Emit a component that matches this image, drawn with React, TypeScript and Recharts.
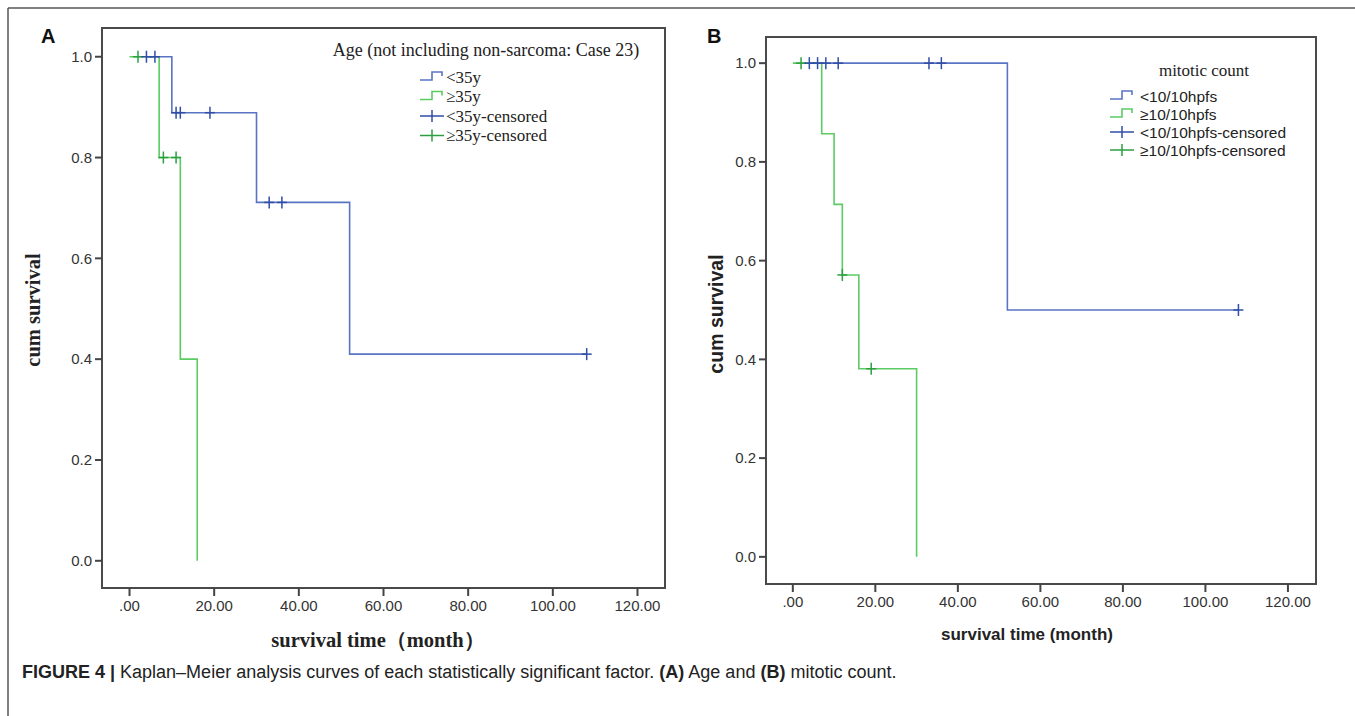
import React from 'react';
import { ComposedChart, Line, Scatter, XAxis, YAxis, ReferenceArea } from 'recharts';

// ---------- data ----------
const timeTicks = [0, 20, 40, 60, 80, 100, 120];
const survTicks = [0, 0.2, 0.4, 0.6, 0.8, 1.0];

// Panel A: Age
const ageYoungCurve = [
  { t: 4, s: 1 },
  { t: 10, s: 0.889 },
  { t: 30, s: 0.711 },
  { t: 52, s: 0.41 },
  { t: 108, s: 0.41 },
];
const ageOldCurve = [
  { t: 0, s: 1 },
  { t: 7, s: 0.8 },
  { t: 12, s: 0.4 },
  { t: 16, s: 0 },
];
const ageYoungCensored = [
  { t: 4, s: 1 },
  { t: 6, s: 1 },
  { t: 11, s: 0.889 },
  { t: 12, s: 0.889 },
  { t: 19, s: 0.889 },
  { t: 33, s: 0.711 },
  { t: 36, s: 0.711 },
  { t: 108, s: 0.41 },
];
const ageOldCensored = [
  { t: 2, s: 1 },
  { t: 8, s: 0.8 },
  { t: 11, s: 0.8 },
];
const ageLegendTitle = 'Age (not including non-sarcoma: Case 23)';
const ageLegendLabels = ['<35y', '≥35y', '<35y-censored', '≥35y-censored'];

// Panel B: mitotic count
const mitLowCurve = [
  { t: 4, s: 1 },
  { t: 52, s: 0.5 },
  { t: 108, s: 0.5 },
];
const mitHighCurve = [
  { t: 0, s: 1 },
  { t: 7, s: 0.857 },
  { t: 10, s: 0.714 },
  { t: 12, s: 0.571 },
  { t: 16, s: 0.381 },
  { t: 30, s: 0 },
];
const mitLowCensored = [
  { t: 4, s: 1 },
  { t: 6, s: 1 },
  { t: 8, s: 1 },
  { t: 11, s: 1 },
  { t: 33, s: 1 },
  { t: 36, s: 1 },
  { t: 108, s: 0.5 },
];
const mitHighCensored = [
  { t: 2, s: 1 },
  { t: 12, s: 0.571 },
  { t: 19, s: 0.381 },
];
const mitLegendTitle = 'mitotic count';
const mitLegendLabels = ['<10/10hpfs', '≥10/10hpfs', '<10/10hpfs-censored', '≥10/10hpfs-censored'];

const captionParts = [
  { text: 'FIGURE 4 | ', bold: true },
  { text: 'Kaplan–Meier analysis curves of each statistically significant factor. ', bold: false },
  { text: '(A)', bold: true },
  { text: ' Age and ', bold: false },
  { text: '(B)', bold: true },
  { text: ' mitotic count.', bold: false },
];

// ---------- style ----------
const BLUE = '#5a74c4';
const GREEN = '#5ccb64';
const BLUE_C = '#2f4ea6';
const GREEN_C = '#2c9f40';
const SANS = '"Liberation Sans", Arial, sans-serif';
const SERIF = '"Liberation Serif", "Times New Roman", serif';

const plusShape = (color: string) => (props: any) => {
  const { cx, cy } = props;
  return (
    <g>
      <line x1={cx - 5} x2={cx + 5} y1={cy} y2={cy} stroke={color} strokeWidth={1.5} />
      <line x1={cx} x2={cx} y1={cy - 6} y2={cy + 6} stroke={color} strokeWidth={1.5} />
    </g>
  );
};

const fmtTime = (v: number) => (v === 0 ? '.00' : v.toFixed(2));
const fmtSurv = (v: number) => v.toFixed(1);

type PanelProps = {
  left: number;
  width: number;
  height: number;
  margin: { top: number; left: number; right: number; bottom: number };
  xDomain: [number, number];
  yDomain: [number, number];
  lowCurve: { t: number; s: number }[];
  highCurve: { t: number; s: number }[];
  lowCens: { t: number; s: number }[];
  highCens: { t: number; s: number }[];
};

const Panel = (p: PanelProps) => (
  <div style={{ position: 'absolute', left: p.left, top: 0 }}>
    <ComposedChart width={p.width} height={p.height} margin={p.margin}>
      <XAxis
        dataKey="t"
        type="number"
        domain={p.xDomain}
        ticks={timeTicks}
        allowDataOverflow
        tickFormatter={fmtTime}
        axisLine={false}
        tickLine={{ stroke: '#444', strokeWidth: 2 }}
        tickSize={8}
        tickMargin={4}
        height={30}
        tick={{ fill: '#333', fontSize: 15, fontFamily: SANS }}
        interval={0}
      />
      <YAxis
        dataKey="s"
        type="number"
        domain={p.yDomain}
        ticks={survTicks}
        allowDataOverflow
        tickFormatter={fmtSurv}
        axisLine={false}
        tickLine={{ stroke: '#444', strokeWidth: 2 }}
        tickSize={7}
        tickMargin={3}
        width={60}
        tick={{ fill: '#333', fontSize: 15, fontFamily: SANS }}
        interval={0}
      />
      <ReferenceArea
        x1={p.xDomain[0]}
        x2={p.xDomain[1]}
        y1={p.yDomain[0]}
        y2={p.yDomain[1]}
        fill="none"
        fillOpacity={0}
        stroke="#4a4a4a"
        strokeWidth={2}
        ifOverflow="visible"
      />
      <Line data={p.highCurve} dataKey="s" type="stepAfter" stroke={GREEN} strokeWidth={1.6} dot={false} activeDot={false} isAnimationActive={false} />
      <Line data={p.lowCurve} dataKey="s" type="stepAfter" stroke={BLUE} strokeWidth={1.6} dot={false} activeDot={false} isAnimationActive={false} />
      <Scatter data={p.highCens} dataKey="s" shape={plusShape(GREEN_C)} isAnimationActive={false} />
      <Scatter data={p.lowCens} dataKey="s" shape={plusShape(BLUE_C)} isAnimationActive={false} />
    </ComposedChart>
  </div>
);

const StepIcon = ({ x, y, color }: { x: number; y: number; color: string }) => (
  <path d={`M${x},${y + 3} H${x + 12} V${y - 5} H${x + 22} V${y - 1}`} fill="none" stroke={color} strokeWidth={1.6} />
);
const CensIcon = ({ x, y, color }: { x: number; y: number; color: string }) => (
  <g>
    <line x1={x} x2={x + 24} y1={y} y2={y} stroke={color} strokeWidth={1.5} />
    <line x1={x + 12} x2={x + 12} y1={y - 6} y2={y + 6} stroke={color} strokeWidth={1.5} />
  </g>
);

const LegendBlock = ({
  title, titleX, titleY, titleSize, labels, iconX, textX, ys, font, size,
}: {
  title: string; titleX: number; titleY: number; titleSize: number; labels: string[]; iconX: number; textX: number; ys: number[]; font: string; size: number;
}) => (
  <g>
    <text x={titleX} y={titleY} textAnchor="middle" dominantBaseline="central" fontFamily={SERIF} fontSize={titleSize} fill="#222">
      {title}
    </text>
    {labels.map((lab, i) => {
      const color = i % 2 === 0 ? BLUE : GREEN;
      const cColor = i % 2 === 0 ? BLUE_C : GREEN_C;
      return (
        <g key={lab}>
          {i < 2 ? <StepIcon x={iconX} y={ys[i]} color={color} /> : <CensIcon x={iconX} y={ys[i]} color={cColor} />}
          <text x={textX} y={ys[i]} dominantBaseline="central" fontFamily={font} fontSize={size} fill="#222">
            {lab}
          </text>
        </g>
      );
    })}
  </g>
);

export default function App() {
  return (
    <div style={{ position: 'absolute', left: 0, top: 0, width: 1355, height: 716, background: '#fff' }}>
      <Panel
        left={0}
        width={680}
        height={700}
        margin={{ top: 28, left: 42, right: 15, bottom: 82 }}
        xDomain={[-6.5, 126.5]}
        yDomain={[-0.054, 1.057]}
        lowCurve={ageYoungCurve}
        highCurve={ageOldCurve}
        lowCens={ageYoungCensored}
        highCens={ageOldCensored}
      />
      <Panel
        left={680}
        width={660}
        height={700}
        margin={{ top: 37, left: 26, right: 24, bottom: 86 }}
        xDomain={[-6.5, 126.8]}
        yDomain={[-0.055, 1.053]}
        lowCurve={mitLowCurve}
        highCurve={mitHighCurve}
        lowCens={mitLowCensored}
        highCens={mitHighCensored}
      />
      <svg width={1355} height={716} style={{ position: 'absolute', left: 0, top: 0, pointerEvents: 'none' }}>
        {/* outer frame */}
        <line x1={8} y1={8} x2={1355} y2={8} stroke="#555" strokeWidth={1.5} />
        <line x1={8} y1={8} x2={8} y2={716} stroke="#555" strokeWidth={1.5} />
        {/* panel letters */}
        <text x={41} y={43} fontFamily={SANS} fontWeight="bold" fontSize={20} fill="#111">A</text>
        <text x={707} y={43} fontFamily={SANS} fontWeight="bold" fontSize={20} fill="#111">B</text>
        {/* axis titles A */}
        <text x={378} y={640} textAnchor="middle" dominantBaseline="central" fontFamily={SERIF} fontWeight="bold" fontSize={20.5} fill="#222">
          survival time（month）
        </text>
        <text x={33} y={310} textAnchor="middle" dominantBaseline="central" transform="rotate(-90 33 310)" fontFamily={SERIF} fontWeight="bold" fontSize={20.5} fill="#222">
          cum survival
        </text>
        {/* axis titles B */}
        <text x={1027} y={634} textAnchor="middle" dominantBaseline="central" fontFamily={SANS} fontWeight="bold" fontSize={17} fill="#222">
          survival time (month)
        </text>
        <text x={716} y={314} textAnchor="middle" dominantBaseline="central" transform="rotate(-90 716 314)" fontFamily={SANS} fontWeight="bold" fontSize={19.5} fill="#222">
          cum survival
        </text>
        {/* legends */}
        <LegendBlock title={ageLegendTitle} titleX={486} titleY={50} titleSize={18} labels={ageLegendLabels} iconX={420} textX={446} ys={[77, 96.5, 116, 135.5]} font={SERIF} size={17} />
        <LegendBlock title={mitLegendTitle} titleX={1204} titleY={70} titleSize={17} labels={mitLegendLabels} iconX={1110} textX={1140} ys={[96, 114, 132, 150]} font={SANS} size={15.5} />
        {/* caption */}
        <text x={22} y={672} dominantBaseline="central" fontFamily={SANS} fontSize={18} fill="#222">
          {captionParts.map((c, i) => (
            <tspan key={i} fontWeight={c.bold ? 'bold' : 'normal'}>{c.text}</tspan>
          ))}
        </text>
      </svg>
    </div>
  );
}
